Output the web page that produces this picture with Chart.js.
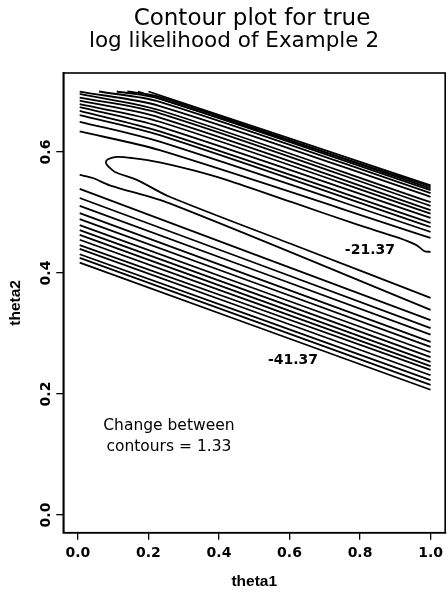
<!DOCTYPE html>
<html lang="en">
<head>
  <meta charset="UTF-8" />
  <title>Contour plot for true log likelihood of Example 2</title>
  <script src="https://cdn.jsdelivr.net/npm/chart.js@4.4.1/dist/chart.umd.min.js"></script>
  <style>
    html, body { margin: 0; padding: 0; background: #fff; }
    #wrap { width: 448px; height: 596px; }
  </style>
</head>
<body>
  <div id="wrap"><canvas id="contourChart" width="448" height="596"></canvas></div>

  <script>
    // ------------
    // DATA
    // ------------
    const titleLines = ["Contour plot for true", "log likelihood of Example 2"];
    const xLabel = "theta1";
    const yLabel = "theta2";
    const xTicks = [0.0, 0.2, 0.4, 0.6, 0.8, 1.0];
    const yTicks = [0.0, 0.2, 0.4, 0.6];
    const levelStep = 1.33;

    // innermost contour (-21.37): open loop round the ridge, tip near theta1 = 0.08
    const ridgeContour = [
      [1.0, 0.435], [0.983, 0.436], [0.960, 0.446], [0.910, 0.458], [0.797, 0.479],
      [0.607, 0.517], [0.421, 0.554], [0.325, 0.570], [0.232, 0.583], [0.155, 0.590],
      [0.110, 0.592], [0.085, 0.588], [0.079, 0.583], [0.082, 0.579], [0.090, 0.574],
      [0.105, 0.567], [0.167, 0.554], [0.260, 0.526], [0.627, 0.443], [1.0, 0.359]
    ];

    // contours above the ridge (left / top edge -> right edge)
    const upperContours = [
      [[0.005, 0.634], [0.232, 0.603], [1.0, 0.458]],
      [[0.005, 0.650], [0.232, 0.617], [1.0, 0.468]],
      [[0.005, 0.661], [0.232, 0.628], [1.0, 0.476]],
      [[0.005, 0.668], [0.232, 0.634], [1.0, 0.483]],
      [[0.005, 0.674], [0.232, 0.642], [1.0, 0.491]],
      [[0.005, 0.679], [0.232, 0.650], [1.0, 0.498]],
      [[0.005, 0.685], [0.232, 0.657], [1.0, 0.504]],
      [[0.005, 0.690], [0.232, 0.664], [1.0, 0.511]],
      [[0.005, 0.696], [0.232, 0.669], [1.0, 0.517]],
      [[0.005, 0.700], [0.232, 0.676], [1.0, 0.526]],
      [[0.060, 0.700], [0.232, 0.683], [1.0, 0.532]],
      [[0.110, 0.700], [0.232, 0.688], [1.0, 0.537]],
      [[0.140, 0.700], [0.232, 0.691], [1.0, 0.540]],
      [[0.170, 0.700], [1.0, 0.543]],
      [[0.200, 0.700], [1.0, 0.545]]
    ];

    // contours below the ridge (left edge -> right edge)
    const lowerContours = [
      [[0.005, 0.562], [0.042, 0.557], [0.090, 0.545], [0.260, 0.515], [1.0, 0.339]],
      [[0.005, 0.539], [1.0, 0.322]],
      [[0.005, 0.524], [1.0, 0.309]],
      [[0.005, 0.511], [1.0, 0.298]],
      [[0.005, 0.499], [1.0, 0.286]],
      [[0.005, 0.489], [1.0, 0.278]],
      [[0.005, 0.479], [1.0, 0.269]],
      [[0.005, 0.471], [1.0, 0.261]],
      [[0.005, 0.463], [1.0, 0.253]],
      [[0.005, 0.455], [1.0, 0.246]],
      [[0.005, 0.446], [1.0, 0.240]],
      [[0.005, 0.440], [1.0, 0.231]],
      [[0.005, 0.431], [1.0, 0.223]],
      [[0.005, 0.425], [1.0, 0.215]],
      [[0.005, 0.417], [1.0, 0.207]]
    ];

    // contour labels and the note, placed in data units
    const levelLabels = [
      { text: "-21.37", x: 0.828, y: 0.438 },
      { text: "-41.37", x: 0.610, y: 0.255 }
    ];
    const noteLines = ["Change between", "contours = " + levelStep.toFixed(2)];
    const noteAt = { x: 0.258, y: [0.140, 0.106] };

    // -------------------------------
    // EXTRA DRAWING (frame, title, labels)
    // -------------------------------
    const textBits = {
      id: "textBits",
      afterDraw(chart) {
        const { ctx, chartArea: a } = chart;
        const sx = chart.scales.x;
        const sy = chart.scales.y;
        ctx.save();
        ctx.strokeStyle = "#000";
        ctx.lineWidth = 1.6;
        ctx.strokeRect(a.left, a.top, a.right - a.left, a.bottom - a.top);

        ctx.fillStyle = "#000";
        ctx.textAlign = "center";
        ctx.textBaseline = "alphabetic";
        ctx.font = '23px "DejaVu Sans"';
        ctx.fillText(titleLines[0], 252, 25);
        ctx.font = '21.5px "DejaVu Sans"';
        ctx.fillText(titleLines[1], 234, 47);

        ctx.font = 'bold 14px "DejaVu Sans"';
        ctx.textBaseline = "middle";
        levelLabels.forEach((l) => {
          ctx.fillText(l.text, sx.getPixelForValue(l.x), sy.getPixelForValue(l.y));
        });

        ctx.font = '15.5px "DejaVu Sans"';
        ctx.textBaseline = "alphabetic";
        noteLines.forEach((t, i) => {
          ctx.fillText(t, sx.getPixelForValue(noteAt.x), sy.getPixelForValue(noteAt.y[i]));
        });
        ctx.restore();
      }
    };

    // -------------------------------
    // CHART
    // -------------------------------
    const toPts = (arr) => arr.map(([x, y]) => ({ x, y }));
    const allContours = [ridgeContour, ...upperContours, ...lowerContours];
    const tickFont = { family: "DejaVu Sans", weight: "bold", size: 14 };
    const axisFont = { family: "Liberation Sans", weight: "bold", size: 15.5 };

    new Chart(document.getElementById("contourChart").getContext("2d"), {
      type: "scatter",
      data: {
        datasets: allContours.map((c) => ({
          data: toPts(c),
          showLine: true,
          borderColor: "#000",
          borderWidth: 1.8,
          pointRadius: 0,
          tension: 0.3,
          fill: false
        }))
      },
      options: {
        responsive: false,
        animation: false,
        devicePixelRatio: 1,
        layout: { padding: { top: 73, right: 1.3, left: 0, bottom: 0 } },
        plugins: { legend: { display: false }, title: { display: false }, tooltip: { enabled: false } },
        scales: {
          x: {
            type: "linear",
            min: -0.0415,
            max: 1.0415,
            afterBuildTicks: (s) => { s.ticks = xTicks.map((v) => ({ value: v })); },
            afterFit: (s) => { s.height = 63.3; },
            grid: { drawOnChartArea: false, drawTicks: true, tickLength: 7, color: "#000", lineWidth: 1.3 },
            border: { display: true, color: "#000", width: 1.6 },
            ticks: { color: "#000", font: tickFont, padding: 5, maxRotation: 0, callback: (v) => Number(v).toFixed(1) },
            title: { display: true, text: xLabel, color: "#000", font: axisFont, padding: 5 }
          },
          y: {
            type: "linear",
            min: -0.0293,
            max: 0.7306,
            afterBuildTicks: (s) => { s.ticks = yTicks.map((v) => ({ value: v })); },
            afterFit: (s) => { s.width = 63.3; },
            grid: { drawOnChartArea: false, drawTicks: true, tickLength: 7, color: "#000", lineWidth: 1.3 },
            border: { display: true, color: "#000", width: 1.6 },
            ticks: {
              color: "#000", font: tickFont, padding: -2,
              minRotation: 90, maxRotation: 90, crossAlign: "center",
              callback: (v) => Number(v).toFixed(1)
            },
            title: { display: true, text: yLabel, color: "#000", font: axisFont, padding: 6 }
          }
        }
      },
      plugins: [textBits]
    });
  </script>
</body>
</html>
